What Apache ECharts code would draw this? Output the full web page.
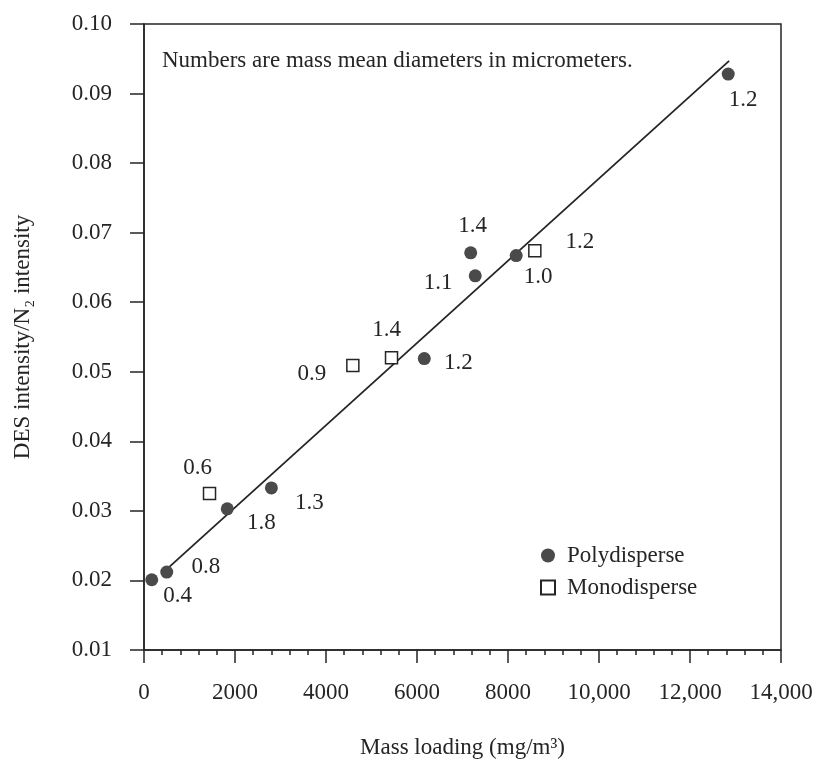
<!DOCTYPE html>
<html>
<head>
<meta charset="utf-8">
<script src="https://cdn.jsdelivr.net/npm/echarts@6/dist/echarts.min.js"></script>
<style>
html,body{margin:0;padding:0;background:#fff;}
#chart{width:817px;height:760px;}
</style>
</head>
<body>
<div id="chart"></div>
<script>
// ---- data ----
var xTicks = [0, 2000, 4000, 6000, 8000, 10000, 12000, 14000];
var yTicks = [0.01, 0.02, 0.03, 0.04, 0.05, 0.06, 0.07, 0.08, 0.09, 0.10];

var polyX = [170, 500, 1830, 2800, 6160, 7180, 7280, 8180, 12840];
var polyY = [0.0201, 0.0212, 0.0303, 0.0333, 0.0519, 0.0671, 0.0638, 0.0667, 0.0928];
var polyD = ['0.4', '0.8', '1.8', '1.3', '1.2', '1.4', '1.1', '1.0', '1.2'];

var monoX = [1440, 4590, 5440, 8590];
var monoY = [0.0325, 0.0509, 0.0520, 0.0674];
var monoD = ['0.6', '0.9', '1.4', '1.2'];

var fitX = [380, 12860];
var fitY = [0.0209, 0.0947];

// ---- label placement (pixels, relative to marker) ----
var polyLabelOffsets = [[26,16],[39,-5],[34,14],[38,15],[34,4],[2,-27],[-37,7],[22,21],[15,26]];
var monoLabelOffsets = [[-12,-26],[-41,8],[-5,-28],[45,-9]];

var FONT = 'Liberation Serif';
var INK = '#252525';

function pts(xs, ys, ds, offs) {
  return xs.map(function (x, i) {
    return {
      value: [x, ys[i], ds[i]],
      label: { offset: offs[i] }
    };
  });
}

var chart = echarts.init(document.getElementById('chart'), null, {renderer: 'canvas'});

var option = {
  backgroundColor: '#ffffff',
  animation: false,
  grid: {
    left: 144, right: 36, top: 24, bottom: 110,
    containLabel: false, outerBoundsMode: 'none',
    show: true, borderColor: INK, borderWidth: 1.5, backgroundColor: 'transparent'
  },
  xAxis: {
    type: 'value',
    min: xTicks[0], max: xTicks[xTicks.length - 1], interval: 2000,
    name: 'Mass loading (mg/m³)',
    nameLocation: 'middle', nameGap: 86,
    nameTextStyle: { fontFamily: FONT, fontSize: 23, color: INK },
    axisLine: { show: true, onZero: false, lineStyle: { color: INK, width: 1.5 } },
    axisTick: { show: true, inside: false, length: 13, lineStyle: { color: INK, width: 1.5 } },
    minorTick: { show: true, splitNumber: 5, length: 5, lineStyle: { color: INK, width: 1.5 } },
    splitLine: { show: false },
    axisLabel: {
      margin: 31, fontFamily: FONT, fontSize: 23, color: INK,
      formatter: function (v) { return v >= 10000 ? (Math.floor(v/1000) + ',' + String(v % 1000).padStart(3, '0')) : String(v); }
    }
  },
  yAxis: {
    type: 'value',
    min: yTicks[0], max: yTicks[yTicks.length - 1], interval: 0.01,
    name: 'DES intensity/N₂ intensity',
    nameLocation: 'middle', nameGap: 110, nameRotate: 90,
    nameTextStyle: { fontFamily: FONT, fontSize: 23, color: INK },
    axisLine: { show: true, onZero: false, lineStyle: { color: INK, width: 1.5 } },
    axisTick: { show: true, inside: false, length: 14, lineStyle: { color: INK, width: 1.5 } },
    splitLine: { show: false },
    axisLabel: {
      margin: 32, fontFamily: FONT, fontSize: 23, color: INK,
      formatter: function (v) { return v.toFixed(2); }
    }
  },
  legend: {
    orient: 'vertical', left: 535, top: 539, itemGap: 9,
    itemWidth: 14, itemHeight: 14,
    textStyle: { fontFamily: FONT, fontSize: 23, color: INK, padding: [0, 0, 0, 7] },
    data: [
      { name: 'Polydisperse', icon: 'circle' },
      { name: 'Monodisperse', icon: 'rect' }
    ]
  },
  graphic: [{
    type: 'text', left: 162, top: 49,
    style: { text: 'Numbers are mass mean diameters in micrometers.', font: '23px "Liberation Serif"', fill: INK }
  }],
  series: [
    {
      name: 'fit', type: 'line', data: fitX.map(function (x, i) { return [x, fitY[i]]; }),
      showSymbol: false, symbol: 'none', lineStyle: { color: INK, width: 1.8 }, silent: true, z: 1
    },
    {
      name: 'Polydisperse', type: 'scatter', symbol: 'circle', symbolSize: 13,
      itemStyle: { color: '#4a4a4a', opacity: 1 },
      label: { show: true, position: 'inside', formatter: function (p) { return p.value[2]; },
               fontFamily: FONT, fontSize: 23, color: INK },
      data: pts(polyX, polyY, polyD, polyLabelOffsets), z: 3
    },
    {
      name: 'Monodisperse', type: 'scatter', symbol: 'rect', symbolSize: 12,
      itemStyle: { color: '#ffffff', borderColor: INK, borderWidth: 1.5, opacity: 1 },
      label: { show: true, position: 'inside', formatter: function (p) { return p.value[2]; },
               fontFamily: FONT, fontSize: 23, color: INK },
      data: pts(monoX, monoY, monoD, monoLabelOffsets), z: 3
    }
  ]
};
chart.setOption(option);
</script>
</body>
</html>
